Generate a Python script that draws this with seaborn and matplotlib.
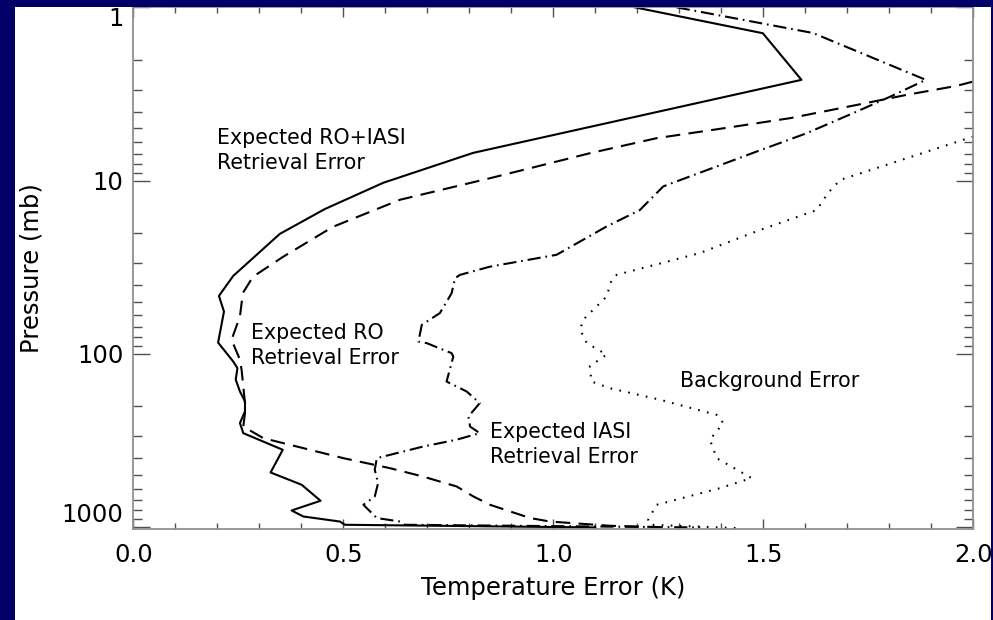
import matplotlib
matplotlib.use("Agg")
import matplotlib.pyplot as plt
from matplotlib.patches import Rectangle
from matplotlib.ticker import FixedLocator, MultipleLocator, NullFormatter, LogLocator
import seaborn as sns

# Temperature error profiles (K) versus pressure (mb)
ro_iasi_T = [1.195, 1.499, 1.591, 0.809, 0.595, 0.456, 0.349, 0.238, 0.204, 0.216,
             0.202, 0.238, 0.248, 0.244, 0.254, 0.266, 0.266, 0.254, 0.262, 0.356,
             0.327, 0.401, 0.446, 0.377, 0.405, 0.492, 0.504, 1.10]
ro_iasi_p = [1.0, 1.41, 2.62, 6.92, 10.3, 14.6, 20.3, 35.5, 46.3, 57.0,
             86.1, 110.7, 121, 141, 165, 188, 215, 251, 287, 358,
             484, 570, 705, 802, 869, 929, 970, 1005]

ro_T = [2.0, 1.960, 1.841, 1.722, 1.564, 1.405, 1.246, 1.087, 0.929, 0.849,
        0.635, 0.475, 0.356, 0.285, 0.261, 0.254, 0.234, 0.254, 0.258, 0.266,
        0.266, 0.262, 0.310, 0.373, 0.500, 0.611, 0.690, 0.770, 0.810, 0.849,
        0.945, 0.992, 1.135, 1.25]
ro_p = [2.68, 2.84, 3.20, 3.66, 4.36, 4.99, 5.69, 6.95, 8.67, 9.69,
        12.9, 18.5, 27.6, 35.9, 44.5, 60.9, 83.0, 108, 124, 192.5,
        220, 263, 307, 335, 400, 457, 511, 583, 666, 743,
        887, 929, 983, 1000]

iasi_T = [1.294, 1.618, 1.887, 1.802, 1.722, 1.603, 1.484, 1.294, 1.262, 1.206,
          1.127, 1.008, 0.849, 0.778, 0.766, 0.758, 0.730, 0.687, 0.679, 0.699,
          0.758, 0.762, 0.746, 0.794, 0.825, 0.798, 0.802, 0.825, 0.770, 0.690,
          0.611, 0.580, 0.575, 0.583, 0.575, 0.548, 0.580, 0.635, 0.647, 1.35]
iasi_p = [1.0, 1.405, 2.62, 3.28, 4.0, 5.33, 6.80, 10.1, 10.8, 14.8,
          18.4, 26.8, 31.4, 35.0, 36.6, 44.7, 58.2, 68.0, 84.9, 86.8,
          99.1, 103.7, 144.5, 165, 192.5, 230, 263, 287, 313, 343,
          383, 400, 467, 557, 666, 744, 887, 929, 970, 1005]

bg_T = [2.0, 1.683, 1.654, 1.627, 1.492, 1.349, 1.151, 1.139, 1.127, 1.071,
        1.064, 1.080, 1.127, 1.087, 1.091, 1.135, 1.254, 1.389, 1.405, 1.373,
        1.389, 1.472, 1.397, 1.246, 1.226, 1.230, 1.449]
bg_p = [5.57, 9.91, 11.8, 14.8, 19.3, 26.2, 35.0, 37.4, 46.7, 63.6,
        72.7, 86.8, 101, 118, 144.5, 158, 184, 225, 251, 313,
        400, 521, 596, 744, 908, 970, 1016]

x_ticks = [0.0, 0.5, 1.0, 1.5, 2.0]
x_tick_labels = ["0.0", "0.5", "1.0", "1.5", "2.0"]
y_ticks = [1, 10, 100, 1000]
y_tick_labels = ["1", "10", "100", "1000"]

annotations = [
    (0.20, 5.0, "Expected RO+IASI\nRetrieval Error"),
    (0.28, 66.5, "Expected RO\nRetrieval Error"),
    (0.849, 247, "Expected IASI\nRetrieval Error"),
    (1.302, 125, "Background Error"),
]

NAVY = "#000066"

plt.rcParams["font.family"] = ["DejaVu Sans"]
plt.rcParams["lines.scale_dashes"] = False

fig = plt.figure(figsize=(9.93, 6.2), dpi=100, facecolor="white")
ax = fig.add_axes([0.1342, 0.1463, 0.8459, 0.8418])

styles = [
    (ro_iasi_T, ro_iasi_p, "-"),
    (ro_T, ro_p, (0, (10.5, 6.0))),
    (iasi_T, iasi_p, (0, (9.5, 3.5, 1.2, 3.5))),
    (bg_T, bg_p, (0, (1.2, 5.3))),
]
for T, p, ls in styles:
    sns.lineplot(x=T, y=p, sort=False, estimator=None, ax=ax,
                 color="black", linewidth=1.5, linestyle=ls)

ax.set_yscale("log")
ax.set_ylim(1030, 1)
ax.set_xlim(0, 2.0)

ax.xaxis.set_major_locator(FixedLocator(x_ticks))
ax.set_xticklabels(x_tick_labels)
ax.xaxis.set_minor_locator(MultipleLocator(0.1))
ax.yaxis.set_major_locator(FixedLocator(y_ticks))
ax.set_yticklabels(y_tick_labels)
ax.yaxis.set_minor_locator(LogLocator(base=10, subs=range(2, 10)))
ax.yaxis.set_minor_formatter(NullFormatter())

for side in ["left", "right", "bottom", "top"]:
    ax.spines[side].set_color("#909090")
    ax.spines[side].set_linewidth(1.3)

ax.tick_params(axis="both", which="both", direction="in", top=True, right=True,
               color="#505050", width=1.0, labelsize=17.5, labelcolor="black")
ax.tick_params(axis="x", which="major", length=7.5, pad=10)
ax.tick_params(axis="x", which="minor", length=4)
ax.tick_params(axis="y", which="major", length=12.5, pad=7)
ax.tick_params(axis="y", which="minor", length=6.5)

ylabels = ax.get_yticklabels()
ylabels[0].set_verticalalignment("top")
ylabels[-1].set_verticalalignment("bottom")

ax.set_xlabel("Temperature Error (K)", fontsize=17.5)
ax.xaxis.set_label_coords(0.5, -0.0895)
ax.set_ylabel("Pressure (mb)", fontsize=17.5)
ax.yaxis.set_label_coords(-0.1063, 0.5)

for x, y, s in annotations:
    ax.text(x, y, s, fontsize=14.8, ha="left", va="top", linespacing=1.3)

# navy frame around the white panel
for rect in [(0, 0, 15 / 993, 1), (0, 1 - 7.4 / 620, 1, 7.4 / 620), (991 / 993, 0, 2 / 993, 1)]:
    fig.add_artist(Rectangle(rect[:2], rect[2], rect[3], transform=fig.transFigure,
                             facecolor=NAVY, edgecolor="none", zorder=10))

fig.savefig("out.png", dpi=100, facecolor="white")
